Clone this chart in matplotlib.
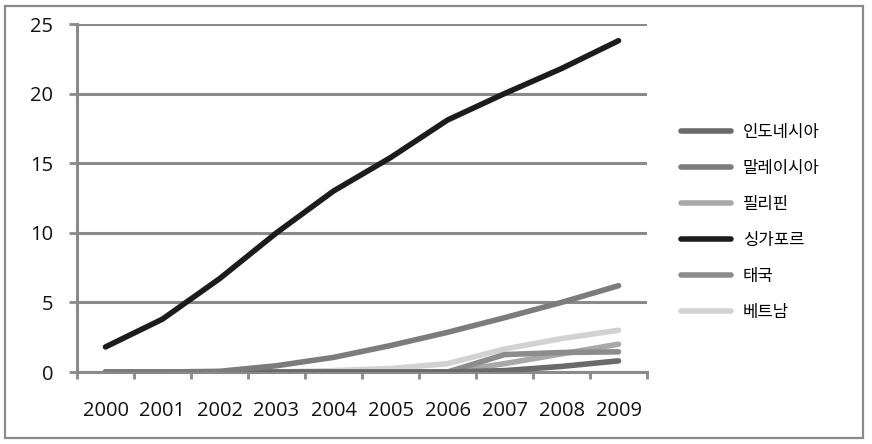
import matplotlib.pyplot as plt
from matplotlib.patches import Rectangle
import numpy as np

years = ['2000', '2001', '2002', '2003', '2004', '2005', '2006', '2007', '2008', '2009']

indonesia = [0, 0, 0, 0, 0, 0, 0, 0.1, 0.4, 0.8]
malaysia = [0, 0, 0.05, 0.45, 1.05, 1.9, 2.85, 3.9, 5.0, 6.2]
philippines = [0, 0, 0, 0, 0, 0, 0, 0.6, 1.3, 2.0]
singapore = [1.8, 3.8, 6.7, 10.0, 13.0, 15.4, 18.1, 20.0, 21.8, 23.8]
thailand = [0, 0, 0, 0, 0, 0, 0, 1.25, 1.4, 1.45]
vietnam = [0, 0, 0, 0, 0.1, 0.25, 0.6, 1.65, 2.4, 3.0]

names = ['인도네시아', '말레이시아', '필리핀', '싱가포르', '태국', '베트남']
colors = ['#6a6a6a', '#7c7c7c', '#a8a8a8', '#1c1c1c', '#8c8c8c', '#d2d2d2']
series = [indonesia, malaysia, philippines, singapore, thailand, vietnam]

plt.rcParams['font.family'] = ['Open Sans', 'Noto Sans CJK KR', 'DejaVu Sans']

fig = plt.figure(figsize=(8.72, 4.44), dpi=100)
ax = fig.add_axes([77 / 872, 1 - 372 / 444, 570 / 872, 348 / 444])

x = np.arange(len(years))
# light lines first so the dark ones sit on top
order = [5, 2, 4, 0, 1, 3]
lines = {}
for i in order:
    ln, = ax.plot(x, series[i], color=colors[i], lw=4.0, solid_capstyle='round',
                  solid_joinstyle='round', label=names[i], zorder=3)
    lines[i] = ln

grid_c = '#8a8a8a'
ax.set_xlim(-0.5, 9.5)
ax.set_ylim(0, 25)
ax.set_yticks([0, 5, 10, 15, 20, 25])
ax.yaxis.grid(True, color=grid_c, lw=2.2)
ax.set_axisbelow(True)
ax.set_xticks(np.arange(-0.5, 10, 1))
ax.set_xticklabels([])
ax.set_xticks(x, minor=True)
ax.set_xticklabels(years, minor=True)
ax.tick_params(axis='x', which='major', length=5, width=2, color=grid_c, direction='out')
ax.tick_params(axis='x', which='minor', length=0, pad=21, labelsize=14.5, labelcolor='#111111')
ax.tick_params(axis='y', length=6, width=2, color=grid_c, pad=11, labelsize=14.5, labelcolor='#111111')
for s in ['top', 'right']:
    ax.spines[s].set_visible(False)
for s in ['left', 'bottom']:
    ax.spines[s].set_color(grid_c)
    ax.spines[s].set_linewidth(2.2)

handles = [lines[i] for i in range(6)]
fig.legend(handles, names, loc='upper left', bbox_to_anchor=(666 / 872, 1 - 110 / 444),
           frameon=False, fontsize=12, handlelength=3.0, labelspacing=1.2,
           handletextpad=0.7)

fig.patches.append(Rectangle((5 / 872, 6 / 444), 858 / 872, 432 / 444, transform=fig.transFigure,
                             fill=False, edgecolor='#8a8a8a', lw=1.6))

fig.savefig('out.png', dpi=100, facecolor='white')
